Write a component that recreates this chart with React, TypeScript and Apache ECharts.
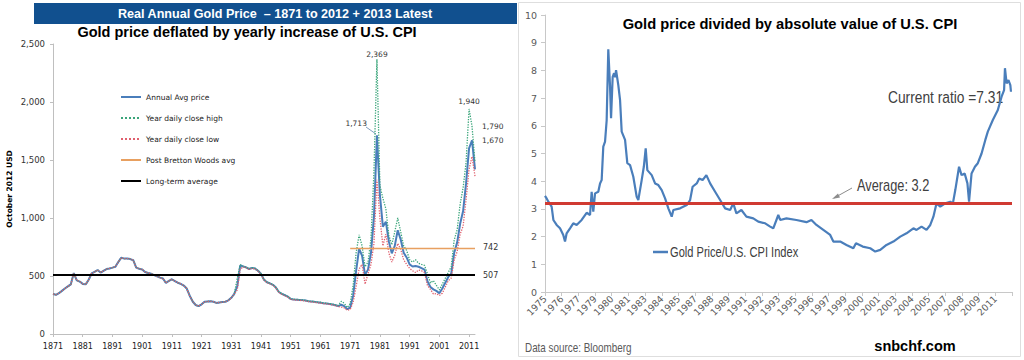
import React, { useEffect, useRef } from 'react';
import * as echarts from 'echarts';

// ---------- Left chart: real annual gold price (Oct 2012 USD) ----------
const FIRST_YEAR = 1871;
const YEAR_COUNT = 143; // 1871 .. 2013
const years: string[] = Array.from({ length: YEAR_COUNT }, (_, i) => String(FIRST_YEAR + i));

const avgPrice: number[] = [
  345, 338, 352, 372, 392, 410, 428, 525, 462, 452, // 1871-1880
  432, 428, 468, 522, 535, 552, 530, 545, 560, 565, // 1881-1890
  572, 580, 622, 658, 650, 650, 646, 636, 572, 562, // 1891-1900
  556, 534, 526, 520, 508, 498, 486, 478, 440, 458, // 1901-1910
  472, 456, 442, 432, 418, 392, 330, 280, 250, 240, // 1911-1920
  256, 278, 280, 282, 278, 268, 272, 275, 278, 290, // 1921-1930
  312, 345, 410, 592, 582, 574, 560, 570, 564, 545, // 1931-1940
  518, 468, 446, 436, 424, 400, 362, 346, 334, 322, // 1941-1950
  302, 298, 296, 294, 292, 288, 283, 280, 277, 273, // 1951-1960
  270, 266, 263, 259, 255, 248, 241, 252, 240, 214, // 1961-1970
  228, 330, 545, 735, 675, 510, 555, 700, 1010, 1713, // 1971-1980
  1200, 925, 968, 800, 695, 760, 895, 815, 700, 660, // 1981-1990
  600, 582, 586, 580, 568, 555, 455, 405, 385, 372, // 1991-2000
  352, 392, 442, 492, 520, 700, 790, 950, 1060, 1300, // 2001-2010
  1600, 1670, 1420, // 2011-2013
];

const highPrice: number[] = [
  345, 338, 352, 372, 392, 410, 428, 525, 462, 452,
  432, 428, 468, 522, 535, 552, 530, 545, 560, 565,
  572, 580, 622, 658, 650, 650, 646, 636, 572, 562,
  556, 534, 526, 520, 508, 498, 486, 478, 440, 458,
  472, 456, 442, 432, 418, 392, 330, 280, 250, 240,
  256, 278, 280, 282, 278, 268, 272, 275, 278, 290,
  312, 345, 480, 598, 584, 576, 562, 572, 566, 547,
  520, 470, 448, 438, 426, 402, 364, 348, 336, 324,
  304, 300, 298, 296, 294, 290, 285, 282, 279, 276,
  274, 268, 265, 262, 258, 252, 245, 282, 265, 228,
  262, 420, 700, 855, 760, 580, 620, 820, 1400, 2369,
  1280, 1170, 1080, 850, 770, 880, 1000, 880, 760, 720,
  640, 620, 640, 610, 600, 592, 520, 440, 460, 420,
  380, 430, 480, 530, 580, 810, 900, 1120, 1260, 1480,
  1940, 1790, 1480,
];

const lowPrice: number[] = [
  345, 338, 352, 372, 392, 410, 428, 525, 462, 452,
  432, 428, 468, 522, 535, 552, 530, 545, 560, 565,
  572, 580, 622, 658, 650, 650, 646, 636, 572, 562,
  556, 534, 526, 520, 508, 498, 486, 478, 440, 458,
  472, 456, 442, 432, 418, 392, 330, 280, 250, 240,
  256, 278, 280, 282, 278, 268, 272, 275, 278, 290,
  312, 345, 380, 560, 578, 570, 556, 566, 560, 541,
  514, 464, 442, 432, 420, 396, 358, 342, 330, 318,
  298, 294, 292, 290, 288, 284, 279, 276, 273, 269,
  266, 262, 259, 255, 251, 244, 237, 232, 225, 205,
  212, 272, 410, 560, 600, 430, 520, 600, 780, 1330,
  1000, 760, 860, 700, 620, 680, 780, 730, 640, 600,
  565, 545, 530, 552, 545, 530, 420, 385, 345, 348,
  332, 352, 405, 460, 482, 640, 710, 860, 930, 1160,
  1420, 1530, 1360,
];

const postBrettonWoodsAvg = 742;
const longTermAvg = 507;
const bwStartYear = '1971';
const bwEndYear = '2013';

// ---------- Right chart: gold price / U.S. CPI index ----------
const ratioYears: number[] = [
  1975.0, 1975.1, 1975.27, 1975.53, 1975.67, 1975.93, 1976.2, 1976.46, 1976.6, 1976.73,
  1977.0, 1977.26, 1977.53, 1977.93, 1978.33, 1978.6, 1978.73, 1978.86, 1979.0, 1979.26,
  1979.4, 1979.53, 1979.66, 1979.8, 1979.93, 1980.06, 1980.2, 1980.28, 1980.41, 1980.52,
  1980.6, 1980.68, 1980.86, 1981.0, 1981.13, 1981.4, 1981.58, 1981.8, 1982.06, 1982.33,
  1982.46, 1982.73, 1982.9, 1983.05, 1983.18, 1983.53, 1983.8, 1984.06, 1984.33, 1984.6,
  1984.86, 1985.13, 1985.26, 1985.8, 1986.33, 1986.6, 1986.8, 1987.13, 1987.33, 1987.6,
  1987.9, 1988.2, 1988.6, 1989.0, 1989.4, 1989.8, 1990.05, 1990.3, 1990.7, 1991.1,
  1991.65, 1992.05, 1992.6, 1993.0, 1993.25, 1993.65, 1993.8, 1994.3, 1995.1, 1995.9,
  1996.3, 1996.7, 1997.25, 1997.8, 1998.05, 1998.6, 1999.1, 1999.65, 1999.86, 2000.4,
  2001.0, 2001.4, 2001.8, 2002.3, 2002.85, 2003.4, 2003.9, 2004.45, 2004.7, 2005.1,
  2005.5, 2005.8, 2006.05, 2006.3, 2006.6, 2007.0, 2007.4, 2007.6, 2007.8, 2008.1,
  2008.3, 2008.55, 2008.77, 2008.9, 2009.1, 2009.37, 2009.6, 2009.9, 2010.2, 2010.4,
  2010.8, 2011.2, 2011.5, 2011.7, 2011.77, 2011.9, 2012.05, 2012.2, 2012.25,
];
const ratioValues: number[] = [
  3.47, 3.4, 3.26, 3.08, 2.6, 2.42, 2.3, 2.06, 1.82, 2.12,
  2.3, 2.48, 2.42, 2.6, 2.86, 2.78, 3.62, 2.9, 3.56, 3.62,
  3.92, 4.04, 5.25, 5.43, 6.2, 8.76, 7.41, 6.27, 7.77, 7.9,
  7.75, 8.01, 7.47, 6.93, 5.79, 5.49, 4.65, 4.58, 4.16, 3.44,
  3.32, 4.04, 4.52, 5.19, 4.4, 4.22, 3.92, 3.86, 3.68, 3.38,
  3.02, 2.72, 2.96, 3.02, 3.14, 3.32, 3.8, 3.92, 4.1, 4.04,
  4.22, 3.92, 3.62, 3.32, 3.02, 2.96, 3.2, 2.84, 2.96, 2.72,
  2.66, 2.54, 2.48, 2.36, 2.3, 2.78, 2.6, 2.66, 2.6, 2.52,
  2.6, 2.42, 2.24, 2.06, 1.82, 1.82, 1.7, 1.58, 1.76, 1.64,
  1.58, 1.46, 1.52, 1.7, 1.82, 2.0, 2.12, 2.3, 2.24, 2.36,
  2.24, 2.42, 2.72, 3.2, 3.08, 3.2, 3.26, 3.18, 3.68, 4.52,
  4.22, 4.28, 3.92, 3.26, 4.28, 4.52, 4.65, 5.0, 5.49, 5.79,
  6.21, 6.57, 7.05, 7.29, 8.08, 7.53, 7.65, 7.47, 7.23,
];
const ratioAverage = 3.2;
const ratioAxisStart = 1975;
const ratioAxisEnd = 2012.333;
const ratioLabelStep = 4 / 3; // 16 months

const SMALL = "'DejaVu Sans', 'Liberation Sans', sans-serif";
const ARIAL = "'Liberation Sans', Arial, sans-serif";

const fmt = (v: number) => Number(v).toLocaleString('en-US');

function pointOf(arr: number[], year: string, label: any) {
  const i = years.indexOf(year);
  return { coord: [year, arr[i]], value: arr[i], label };
}

const markPointBase = {
  symbol: 'circle',
  symbolSize: 0.01,
  itemStyle: { color: 'rgba(0,0,0,0)' },
  silent: true,
  label: { show: true, fontSize: 7.5, color: '#333', fontFamily: SMALL, formatter: (p: any) => fmt(p.value) },
};

export default function App() {
  const ref = useRef<HTMLDivElement>(null);
  useEffect(() => {
    if (!ref.current) return;
    const chart = echarts.init(ref.current, undefined, { renderer: 'svg' });
    const option: any = {
      animation: false,
      backgroundColor: '#ffffff',
      textStyle: { fontFamily: ARIAL },
      grid: [
        { left: 53, top: 44, width: 422, height: 290 },
        { left: 545, top: 15, width: 467, height: 277 },
      ],
      xAxis: [
        {
          type: 'category', gridIndex: 0, data: years, boundaryGap: false,
          axisLine: { lineStyle: { color: '#bfbfbf', width: 1 } },
          axisTick: { interval: 9, length: 3, lineStyle: { color: '#bfbfbf' } },
          axisLabel: { interval: 9, fontSize: 8, color: '#222', margin: 8, fontFamily: SMALL },
          splitLine: { show: false },
        },
        {
          type: 'value', gridIndex: 1, min: ratioAxisStart, max: ratioAxisEnd, interval: ratioLabelStep,
          axisLine: { lineStyle: { color: '#c8c8c8' } },
          axisTick: { show: true, length: 4, lineStyle: { color: '#c8c8c8' } },
          axisLabel: {
            rotate: 45, fontSize: 9.3, color: '#595959', margin: 5, fontFamily: SMALL,
            formatter: (v: number) => (v > 2011.5 ? '' : String(Math.floor(v + 0.01))),
          },
          splitLine: { show: false },
        },
      ],
      yAxis: [
        {
          type: 'value', gridIndex: 0, min: 0, max: 2500, interval: 500,
          name: 'October 2012 USD', nameLocation: 'middle', nameGap: 40, nameRotate: 90,
          nameTextStyle: { fontSize: 7.5, fontWeight: 'bold', color: '#000', fontFamily: SMALL },
          axisLine: { show: true, lineStyle: { color: '#bfbfbf' } },
          axisTick: { show: true, length: 3, lineStyle: { color: '#bfbfbf' } },
          axisLabel: { fontSize: 8.5, color: '#333', margin: 8, fontFamily: SMALL, formatter: (v: number) => fmt(v) },
          splitLine: { show: false },
        },
        {
          type: 'value', gridIndex: 1, min: 0, max: 10, interval: 1,
          axisLine: { show: true, lineStyle: { color: '#c8c8c8' } },
          axisTick: { show: true, length: 4, lineStyle: { color: '#c8c8c8' } },
          axisLabel: { fontSize: 9.5, color: '#595959', margin: 8, fontFamily: SMALL },
          splitLine: { show: false },
        },
      ],
      legend: [
        {
          data: ['Annual Avg price', 'Year daily close high', 'Year daily close low', 'Post Bretton Woods avg', 'Long-term average'],
          orient: 'vertical', left: 120, top: 93, padding: 0, itemWidth: 20, itemHeight: 8, itemGap: 13,
          selectedMode: false,
          itemStyle: { opacity: 0, borderWidth: 0 },
          textStyle: { fontSize: 7.5, color: '#222', fontFamily: SMALL },
        },
      ],
      series: [
        {
          name: 'Annual Avg price', type: 'line', xAxisIndex: 0, yAxisIndex: 0,
          data: avgPrice, symbol: 'none', z: 2,
          lineStyle: { color: '#4a7ebb', width: 2 }, itemStyle: { color: '#4a7ebb' },
          markPoint: {
            ...markPointBase,
            data: [
              pointOf(avgPrice, '1980', { position: 'left', distance: 10, offset: [0, -12] }),
              pointOf(avgPrice, '2012', { position: 'right', distance: 10 }),
            ],
          },
        },
        {
          name: 'Year daily close high', type: 'line', xAxisIndex: 0, yAxisIndex: 0,
          data: highPrice, symbol: 'none', z: 3,
          lineStyle: { color: '#3aa57a', width: 1.3, type: 'dotted' }, itemStyle: { color: '#3aa57a' },
          markPoint: {
            ...markPointBase,
            data: [
              pointOf(highPrice, '1980', { position: 'top', distance: 1 }),
              pointOf(highPrice, '2011', { position: 'top', distance: 3 }),
              pointOf(highPrice, '2012', { position: 'right', distance: 10 }),
            ],
          },
        },
        {
          name: 'Year daily close low', type: 'line', xAxisIndex: 0, yAxisIndex: 0,
          data: lowPrice, symbol: 'none', z: 3,
          lineStyle: { color: '#e0606e', width: 1.3, type: 'dotted' }, itemStyle: { color: '#e0606e' },
        },
        {
          name: 'Post Bretton Woods avg', type: 'line', xAxisIndex: 0, yAxisIndex: 0,
          data: [], symbol: 'none',
          lineStyle: { color: '#e8a060', width: 1.5 }, itemStyle: { color: '#e8a060' },
          markLine: {
            silent: true, symbol: 'none',
            lineStyle: { color: '#e8a060', width: 1.3, type: 'solid' },
            label: { show: true, position: 'end', distance: 8, fontSize: 8, color: '#333', fontFamily: SMALL, formatter: () => String(postBrettonWoodsAvg) },
            data: [[{ coord: [bwStartYear, postBrettonWoodsAvg] }, { coord: [bwEndYear, postBrettonWoodsAvg] }]],
          },
        },
        {
          name: 'Long-term average', type: 'line', xAxisIndex: 0, yAxisIndex: 0,
          data: [], symbol: 'none',
          lineStyle: { color: '#000', width: 2 }, itemStyle: { color: '#000' },
          markLine: {
            silent: true, symbol: 'none',
            lineStyle: { color: '#000', width: 2, type: 'solid' },
            label: { show: true, position: 'end', distance: 8, fontSize: 8, color: '#333', fontFamily: SMALL, formatter: () => String(longTermAvg) },
            data: [{ yAxis: longTermAvg }],
          },
        },
        {
          name: 'Gold Price/U.S. CPI Index', type: 'line', xAxisIndex: 1, yAxisIndex: 1,
          data: ratioYears.map((x, i) => [x, ratioValues[i]]), symbol: 'none',
          lineStyle: { color: '#4a7ebb', width: 2.2 }, itemStyle: { color: '#4a7ebb' },
          markLine: {
            silent: true, symbol: 'none',
            lineStyle: { color: '#d03a32', width: 3, type: 'solid' },
            label: { show: false },
            data: [{ yAxis: ratioAverage }],
          },
        },
      ],
      graphic: [
        // right panel frame
        { type: 'rect', silent: true, shape: { x: 518.5, y: 2.5, width: 502, height: 354 }, style: { fill: 'none', stroke: '#dedede', lineWidth: 1 } },
        // banner
        { type: 'rect', silent: true, shape: { x: 34, y: 3, width: 483, height: 21 }, style: { fill: '#11508f' } },
        { type: 'text', silent: true, x: 275, y: 14, style: { text: 'Real Annual Gold Price  \u2013 1871 to 2012 + 2013 Latest', fill: '#fff', fontSize: 12.6, fontWeight: 'bold', fontFamily: ARIAL, align: 'center', verticalAlign: 'middle', textAlign: 'center', textVerticalAlign: 'middle' } },
        { type: 'text', silent: true, x: 247, y: 32, style: { text: 'Gold price deflated by yearly increase of U.S. CPI', fill: '#000', fontSize: 14.5, fontWeight: 'bold', fontFamily: ARIAL, align: 'center', verticalAlign: 'middle', textAlign: 'center', textVerticalAlign: 'middle' } },
        { type: 'text', silent: true, x: 790, y: 24, style: { text: 'Gold price divided by absolute value of U.S. CPI', fill: '#000', fontSize: 14.7, fontWeight: 'bold', fontFamily: ARIAL, align: 'center', verticalAlign: 'middle', textAlign: 'center', textVerticalAlign: 'middle' } },
        // leader line for 1,713
        { type: 'line', silent: true, shape: { x1: 366, y1: 127, x2: 376, y2: 134 }, style: { stroke: '#7f9fbf', lineWidth: 1 } },
        // right annotations
        { type: 'text', silent: true, x: 888, y: 97, scaleX: 0.81, style: { text: 'Current ratio =7.31', fill: '#404040', fontSize: 17, fontFamily: ARIAL, align: 'left', verticalAlign: 'middle', textAlign: 'left', textVerticalAlign: 'middle' } },
        { type: 'text', silent: true, x: 857, y: 185, scaleX: 0.8, style: { text: 'Average: 3.2', fill: '#404040', fontSize: 16, fontFamily: ARIAL, align: 'left', verticalAlign: 'middle', textAlign: 'left', textVerticalAlign: 'middle' } },
        { type: 'line', silent: true, shape: { x1: 852, y1: 188, x2: 834, y2: 198 }, style: { stroke: '#8c8c8c', lineWidth: 1 } },
        { type: 'polygon', silent: true, shape: { points: [[832, 199], [838, 193.5], [840, 197.5]] }, style: { fill: '#8c8c8c' } },
        // right legend
        { type: 'line', silent: true, shape: { x1: 653, y1: 252, x2: 668, y2: 252 }, style: { stroke: '#4a7ebb', lineWidth: 2.5 } },
        { type: 'text', silent: true, x: 670, y: 252, scaleX: 0.74, style: { text: 'Gold Price/U.S. CPI Index', fill: '#404040', fontSize: 15, fontFamily: ARIAL, align: 'left', verticalAlign: 'middle', textAlign: 'left', textVerticalAlign: 'middle' } },
        { type: 'text', silent: true, x: 525, y: 347, scaleX: 0.76, style: { text: 'Data source: Bloomberg', fill: '#595959', fontSize: 13, fontFamily: ARIAL, align: 'left', verticalAlign: 'middle', textAlign: 'left', textVerticalAlign: 'middle' } },
        { type: 'text', silent: true, x: 915, y: 346, style: { text: 'snbchf.com', fill: '#000', fontSize: 14.5, fontWeight: 'bold', fontFamily: ARIAL, align: 'center', verticalAlign: 'middle', textAlign: 'center', textVerticalAlign: 'middle' } },
      ],
    };
    chart.setOption(option);
    return () => chart.dispose();
  }, []);
  return (
    <div
      ref={ref}
      style={{ position: 'fixed', left: 0, top: 0, width: 1024, height: 360, background: '#fff' }}
    />
  );
}
